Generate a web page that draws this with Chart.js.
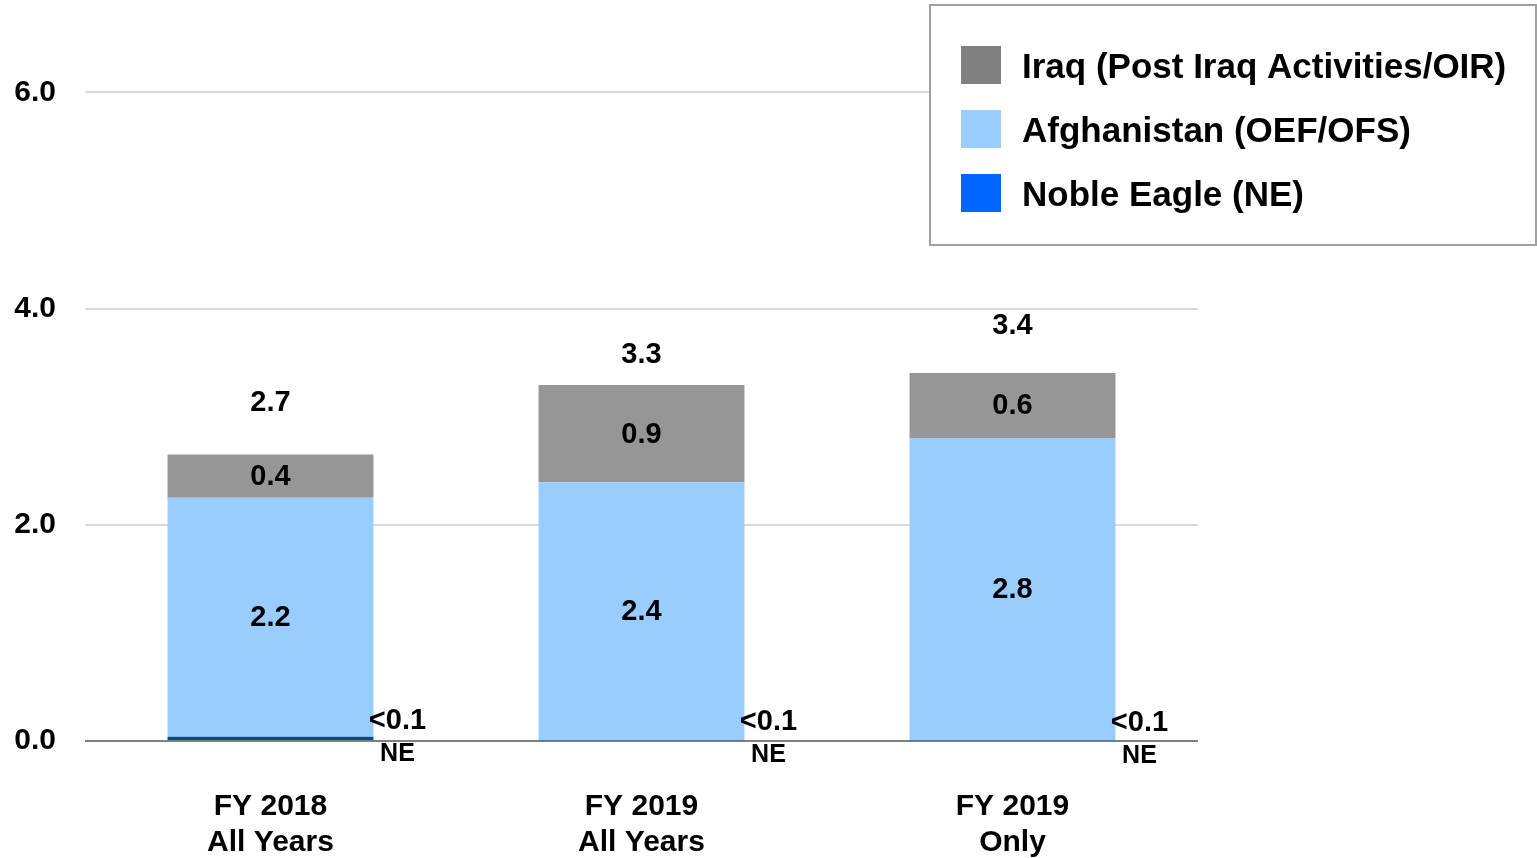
<!DOCTYPE html>
<html>
<head>
<meta charset="utf-8">
<script src="https://cdn.jsdelivr.net/npm/chart.js@4/dist/chart.umd.min.js"></script>
<style>
  body { margin: 0; background: #fff; }
  #wrap { width: 1537px; height: 858px; }
</style>
</head>
<body>
<div id="wrap"><canvas id="myGraph" width="1537" height="858"></canvas></div>
<script>
// values (billions)
const categories = [['FY 2018', 'All Years'], ['FY 2019', 'All Years'], ['FY 2019', 'Only']];
const nobleEagle = [0.04, 0.004, 0.004];
const afghanistan = [2.21, 2.39, 2.80];
const iraq = [0.40, 0.90, 0.60];
const totals = ['2.7', '3.3', '3.4'];
const neLabels = ['<0.1', '<0.1', '<0.1'];
const yTicks = [0, 2, 4, 6];

const FONT = '"Liberation Sans", Arial, sans-serif';

// legend swatches use slightly different tones than the bars
const legendItems = [
  { label: 'Iraq (Post Iraq Activities/OIR)', color: '#808080' },
  { label: 'Afghanistan (OEF/OFS)', color: '#99ccff' },
  { label: 'Noble Eagle (NE)', color: '#0066ff' },
];

const labelPlugin = {
  id: 'barLabels',
  afterDatasetsDraw(chart) {
    const ctx = chart.ctx;
    const y = chart.scales.y;
    ctx.save();
    ctx.fillStyle = '#000';
    ctx.textAlign = 'center';
    ctx.textBaseline = 'middle';
    ctx.font = 'bold 29px ' + FONT;
    // segment values for Afghanistan and Iraq
    [1, 2].forEach(di => {
      const meta = chart.getDatasetMeta(di);
      meta.data.forEach((bar, i) => {
        const v = chart.data.datasets[di].data[i];
        ctx.fillText(v.toFixed(1), bar.x, (bar.y + bar.base) / 2 + 1);
      });
    });
    // totals above the bars
    const topOffsets = [52, 30, 47];
    chart.getDatasetMeta(2).data.forEach((bar, i) => {
      ctx.fillText(totals[i], bar.x, bar.y - topOffsets[i]);
    });
    // Noble Eagle notes at the bottom right of each bar
    const zero = y.getPixelForValue(0);
    chart.getDatasetMeta(0).data.forEach((bar, i) => {
      const x = bar.x + bar.width / 2 + 24;
      ctx.font = 'bold 29px ' + FONT;
      ctx.fillText(neLabels[i], x, zero - 20 + i);
      ctx.font = 'bold 25px ' + FONT;
      ctx.fillText('NE', x, zero + 13 + i);
    });
    ctx.restore();
  }
};

const boxLegend = {
  id: 'boxLegend',
  afterDraw(chart) {
    const ctx = chart.ctx;
    ctx.save();
    ctx.fillStyle = '#fff';
    ctx.fillRect(930, 5, 606, 240);
    ctx.strokeStyle = '#a0a0a0';
    ctx.lineWidth = 2;
    ctx.strokeRect(930, 5, 606, 240);
    ctx.font = 'bold 35px ' + FONT;
    ctx.textBaseline = 'middle';
    ctx.textAlign = 'left';
    legendItems.forEach((item, i) => {
      const cy = 65 + i * 64;
      ctx.fillStyle = item.color;
      ctx.fillRect(961, cy - 19, 40, 38);
      ctx.fillStyle = '#000';
      ctx.fillText(item.label, 1022, cy + 3);
    });
    ctx.restore();
  }
};

const graphCtx = document.getElementById('myGraph').getContext('2d');
const newGraph = new Chart(graphCtx, {
  type: 'bar',
  data: {
    labels: categories,
    datasets: [
      { label: 'Noble Eagle (NE)', data: nobleEagle, backgroundColor: '#0b4a8a' },
      { label: 'Afghanistan (OEF/OFS)', data: afghanistan, backgroundColor: '#99ccff' },
      { label: 'Iraq (Post Iraq Activities/OIR)', data: iraq, backgroundColor: '#969696' },
    ],
  },
  options: {
    responsive: false,
    animation: false,
    layout: { padding: { top: 4, right: 339, left: 0, bottom: 0 } },
    datasets: { bar: { categoryPercentage: 1, barPercentage: 0.555, borderWidth: 0 } },
    plugins: {
      legend: { display: false },
      tooltip: { enabled: false },
    },
    scales: {
      x: {
        stacked: true,
        grid: { display: false },
        border: { display: false },
        ticks: {
          color: '#000',
          padding: 40,
          font: { family: FONT, size: 30, weight: 'bold', lineHeight: 1.2 },
          maxRotation: 0,
        },
        afterFit(scale) { scale.height = 117; },
      },
      y: {
        stacked: true,
        min: 0,
        max: 6.42,
        afterBuildTicks(scale) {
          scale.ticks = yTicks.map(v => ({ value: v }));
        },
        border: { display: false },
        grid: {
          drawTicks: false,
          lineWidth: 2,
          color: c => (c.tick && c.tick.value === 0 ? '#808080' : '#d9d9d9'),
        },
        ticks: {
          color: '#000',
          padding: 29,
          font: { family: FONT, size: 30, weight: 'bold' },
          callback: v => v.toFixed(1),
        },
        afterFit(scale) { scale.width = 85; },
      },
    },
  },
  plugins: [labelPlugin, boxLegend],
});
</script>
</body>
</html>
